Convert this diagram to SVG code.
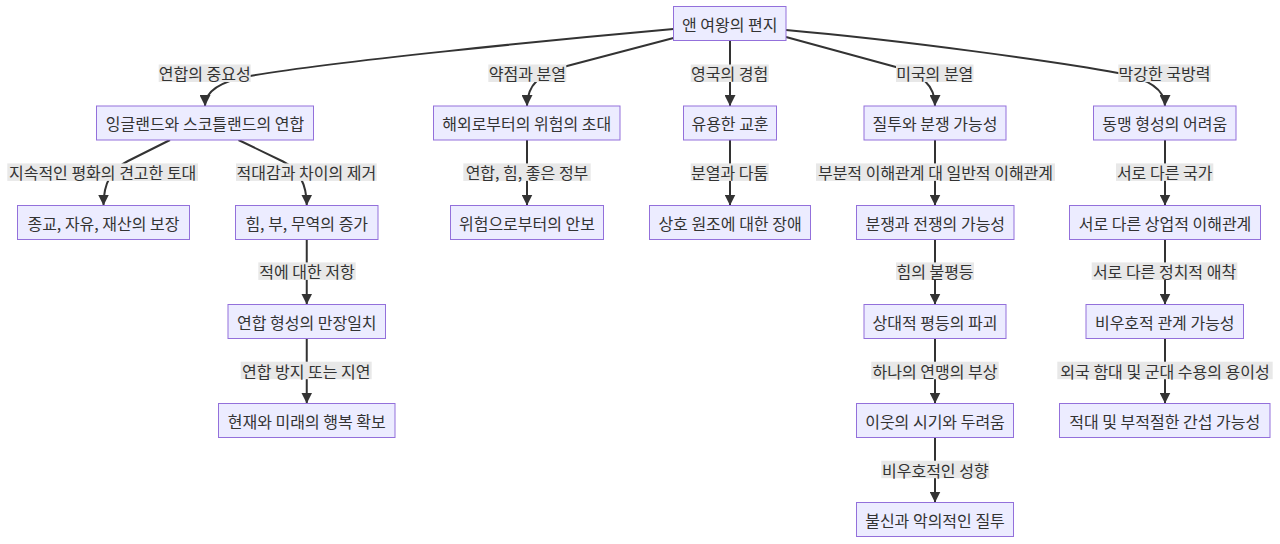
<svg xmlns="http://www.w3.org/2000/svg" width="1280" height="544" viewBox="0 0 1280 544">
<style>
.node rect{fill:#ECECFF;stroke:#9370DB;stroke-width:1}
text{font-family:"Noto Sans CJK KR","Noto Sans",sans-serif;font-size:16px;fill:#333;text-anchor:middle;dominant-baseline:central}
.edge{fill:none;stroke:#333;stroke-width:2;marker-end:url(#arrow)}
.lbl rect{fill:#e8e8e8}
</style>
<defs>
<marker id="arrow" viewBox="0 0 10 10" refX="10" refY="5" markerUnits="userSpaceOnUse" markerWidth="11" markerHeight="11" orient="auto">
<path d="M0,0 L10,5 L0,10 z" fill="#333"/>
</marker>
</defs>
<rect width="1280" height="544" fill="#fff"/>
<g id="connectors">
<path class="edge" d="M673.5,29 C550,40 330,62 250,76 C222,81 205,90 205,106"/>
<path class="edge" d="M673.5,38 L567,66 C540,73 527,85 527,106"/>
<path class="edge" d="M730,40.5 L730,106"/>
<path class="edge" d="M786,37 L895,66.7 C922,74 935,85 935,106"/>
<path class="edge" d="M786,30 C900,40 1060,62 1118,73 C1145,78 1165,88 1165,106"/>
<path class="edge" d="M170,140 L128,161 C112,169 103.5,182 103.5,205.5"/>
<path class="edge" d="M238.5,140 L283,161.5 C298,169 306.75,182 306.75,205.5"/>
<path class="edge" d="M527,140 L527,205.5"/>
<path class="edge" d="M730,140 L730,205.5"/>
<path class="edge" d="M935,140 L935,205.5"/>
<path class="edge" d="M1165,140 L1165,205.5"/>
<path class="edge" d="M306.75,239.5 L306.75,304.5"/>
<path class="edge" d="M935,239.5 L935,304.5"/>
<path class="edge" d="M1165,239.5 L1165,304.5"/>
<path class="edge" d="M306.75,338.5 L306.75,403.5"/>
<path class="edge" d="M935,338.5 L935,403.5"/>
<path class="edge" d="M1165,338.5 L1165,403.5"/>
<path class="edge" d="M935,437.5 L935,502.5"/>
<g class="lbl">
<rect x="158.7" y="64.5" width="92" height="17.5"/><text x="204.7" y="73.3">연합의 중요성</text>
<rect x="488.3" y="64.5" width="78" height="17.5"/><text x="527.3" y="73.3">약점과 분열</text>
<rect x="690.7" y="64.5" width="78" height="17.5"/><text x="729.7" y="73.3">영국의 경험</text>
<rect x="896" y="64.5" width="77.5" height="17.5"/><text x="934.75" y="73.3">미국의 분열</text>
<rect x="1118.3" y="64.5" width="92.5" height="17.5"/><text x="1164.55" y="73.3">막강한 국방력</text>
<rect x="7.3" y="163.4" width="190.7" height="17.5"/><text x="102.65" y="172.2">지속적인 평화의 견고한 토대</text>
<rect x="236" y="163.4" width="140.7" height="17.5"/><text x="306.35" y="172.2">적대감과 차이의 제거</text>
<rect x="463.3" y="163.4" width="127.4" height="17.5"/><text x="527" y="172.2">연합, 힘, 좋은 정부</text>
<rect x="690.7" y="163.4" width="78" height="17.5"/><text x="729.7" y="172.2">분열과 다툼</text>
<rect x="816" y="163.4" width="239" height="17.5"/><text x="935.5" y="172.2">부분적 이해관계 대 일반적 이해관계</text>
<rect x="1116" y="163.4" width="97.3" height="17.5"/><text x="1164.65" y="172.2">서로 다른 국가</text>
<rect x="258.3" y="262.4" width="97.4" height="17.5"/><text x="307" y="271.2">적에 대한 저항</text>
<rect x="896" y="262.4" width="78" height="17.5"/><text x="935" y="271.2">힘의 불평등</text>
<rect x="1091.7" y="262.4" width="145.6" height="17.5"/><text x="1164.5" y="271.2">서로 다른 정치적 애착</text>
<rect x="240.7" y="361.7" width="131" height="17.5"/><text x="306.2" y="370.5">연합 방지 또는 지연</text>
<rect x="871.3" y="361.7" width="127.4" height="17.5"/><text x="935" y="370.5">하나의 연맹의 부상</text>
<rect x="1057.3" y="361.7" width="215.4" height="17.5"/><text x="1165" y="370.5">외국 함대 및 군대 수용의 용이성</text>
<rect x="881.3" y="460.7" width="108" height="17.5"/><text x="935.3" y="469.5">비우호적인 성향</text>
</g>
</g>
<g id="root" class="node"><rect x="673.5" y="6.5" width="112.5" height="34"/><text x="729.75" y="23.5">앤 여왕의 편지</text></g>
<g id="n1" class="node"><rect x="96.5" y="106" width="217" height="34"/><text x="205" y="123">잉글랜드와 스코틀랜드의 연합</text></g>
<g id="n2" class="node"><rect x="433.5" y="106" width="186.5" height="34"/><text x="526.75" y="123">해외로부터의 위험의 초대</text></g>
<g id="n3" class="node"><rect x="683.5" y="106" width="93" height="34"/><text x="730" y="123">유용한 교훈</text></g>
<g id="n4" class="node"><rect x="864" y="106" width="142" height="34"/><text x="935" y="123">질투와 분쟁 가능성</text></g>
<g id="n5" class="node"><rect x="1093.5" y="106" width="142.5" height="34"/><text x="1164.75" y="123">동맹 형성의 어려움</text></g>
<g id="n6" class="node"><rect x="17.5" y="205.5" width="172" height="34"/><text x="103.5" y="222.5">종교, 자유, 재산의 보장</text></g>
<g id="n7" class="node"><rect x="235.5" y="205.5" width="142.5" height="34"/><text x="306.75" y="222.5">힘, 부, 무역의 증가</text></g>
<g id="n8" class="node"><rect x="450.5" y="205.5" width="153" height="34"/><text x="527" y="222.5">위험으로부터의 안보</text></g>
<g id="n9" class="node"><rect x="649.5" y="205.5" width="161" height="34"/><text x="730" y="222.5">상호 원조에 대한 장애</text></g>
<g id="n10" class="node"><rect x="856.5" y="205.5" width="157.5" height="34"/><text x="935.25" y="222.5">분쟁과 전쟁의 가능성</text></g>
<g id="n11" class="node"><rect x="1069.5" y="205.5" width="191" height="34"/><text x="1165" y="222.5">서로 다른 상업적 이해관계</text></g>
<g id="n12" class="node"><rect x="228" y="304.5" width="157.5" height="34"/><text x="306.75" y="321.5">연합 형성의 만장일치</text></g>
<g id="n13" class="node"><rect x="864" y="304.5" width="142" height="34"/><text x="935" y="321.5">상대적 평등의 파괴</text></g>
<g id="n14" class="node"><rect x="1086" y="304.5" width="157.5" height="34"/><text x="1164.75" y="321.5">비우호적 관계 가능성</text></g>
<g id="n15" class="node"><rect x="218.5" y="403.5" width="176.5" height="34"/><text x="306.75" y="420.5">현재와 미래의 행복 확보</text></g>
<g id="n16" class="node"><rect x="856.5" y="403.5" width="157" height="34"/><text x="935" y="420.5">이웃의 시기와 두려움</text></g>
<g id="n17" class="node"><rect x="1059.5" y="403.5" width="210.5" height="34"/><text x="1164.75" y="420.5">적대 및 부적절한 간섭 가능성</text></g>
<g id="n18" class="node"><rect x="856.5" y="502.5" width="157" height="34"/><text x="935" y="519.5">불신과 악의적인 질투</text></g>
</svg>
